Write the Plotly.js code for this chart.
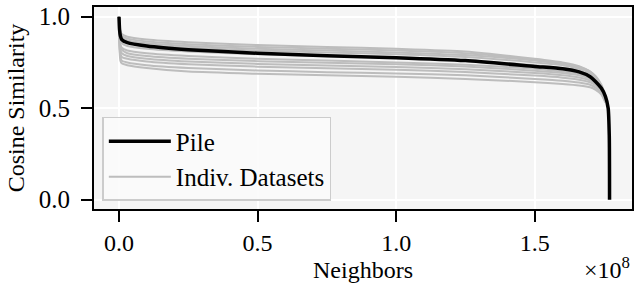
<!DOCTYPE html>
<html>
<head>
<meta charset="utf-8">
<script src="https://cdn.plot.ly/plotly-3.0.1.min.js"></script>
<style>html,body{margin:0;padding:0;background:#fff;}#chart{width:634px;height:283px;}</style>
</head>
<body>
<div id="chart"></div>
<script>
// Neighbors in units of 1e8
const pileX = [0, 0.002, 0.005, 0.01, 0.03, 0.1, 0.25, 0.5, 0.75, 1.0, 1.25, 1.5, 1.6, 1.66, 1.70, 1.72, 1.74, 1.755, 1.765, 1.769, 1.77];
const pileY = [1.0, 0.93, 0.895, 0.875, 0.858, 0.84, 0.82, 0.80, 0.787, 0.776, 0.76, 0.728, 0.715, 0.698, 0.672, 0.645, 0.61, 0.565, 0.50, 0.35, 0.0];

const indivX = [0, 0.002, 0.005, 0.01, 0.03, 0.1, 0.25, 0.5, 0.75, 1.0, 1.25, 1.5, 1.6, 1.66, 1.70, 1.72, 1.74, 1.755];
const indiv1  = [1.0, 0.95, 0.92, 0.905, 0.89, 0.875, 0.86, 0.845, 0.835, 0.825, 0.81, 0.77, 0.75, 0.73, 0.70, 0.675, 0.63, 0.57];
const indiv2  = [1.0, 0.94, 0.91, 0.895, 0.88, 0.865, 0.85, 0.835, 0.825, 0.815, 0.80, 0.765, 0.745, 0.725, 0.70, 0.67, 0.625, 0.565];
const indiv3  = [1.0, 0.93, 0.90, 0.885, 0.87, 0.855, 0.84, 0.825, 0.815, 0.805, 0.79, 0.76, 0.74, 0.72, 0.695, 0.665, 0.62, 0.56];
const indiv4  = [1.0, 0.92, 0.89, 0.875, 0.86, 0.845, 0.83, 0.815, 0.805, 0.795, 0.78, 0.75, 0.735, 0.715, 0.69, 0.66, 0.615, 0.555];
const indiv5  = [1.0, 0.90, 0.87, 0.855, 0.84, 0.825, 0.81, 0.795, 0.785, 0.775, 0.762, 0.735, 0.72, 0.705, 0.68, 0.655, 0.61, 0.55];
const indiv6  = [1.0, 0.88, 0.85, 0.83, 0.815, 0.80, 0.785, 0.77, 0.76, 0.75, 0.738, 0.715, 0.70, 0.688, 0.67, 0.645, 0.605, 0.55];
const indiv7  = [1.0, 0.87, 0.84, 0.82, 0.80, 0.785, 0.77, 0.757, 0.748, 0.74, 0.728, 0.705, 0.692, 0.68, 0.662, 0.64, 0.60, 0.545];
const indiv8  = [1.0, 0.86, 0.82, 0.80, 0.785, 0.77, 0.755, 0.742, 0.733, 0.725, 0.713, 0.692, 0.68, 0.668, 0.652, 0.632, 0.595, 0.54];
const indiv9  = [1.0, 0.85, 0.80, 0.78, 0.77, 0.755, 0.74, 0.727, 0.718, 0.71, 0.698, 0.678, 0.667, 0.656, 0.642, 0.624, 0.59, 0.54];
const indiv10 = [1.0, 0.84, 0.78, 0.76, 0.75, 0.735, 0.72, 0.706, 0.697, 0.69, 0.68, 0.66, 0.65, 0.64, 0.628, 0.612, 0.582, 0.535];
const indiv11 = [1.0, 0.82, 0.76, 0.745, 0.735, 0.72, 0.70, 0.688, 0.68, 0.672, 0.66, 0.642, 0.632, 0.624, 0.614, 0.60, 0.575, 0.53];
const indivSeries = [indiv1, indiv2, indiv3, indiv4, indiv5, indiv6, indiv7, indiv8, indiv9, indiv10, indiv11];

const xTicks = [0, 0.5, 1.0, 1.5];
const xTickText = ["0.0", "0.5", "1.0", "1.5"];
const yTicks = [0, 0.5, 1.0];
const yTickText = ["0.0", "0.5", "1.0"];

const FONT = "Liberation Serif";
const FS = 24;

const traces = indivSeries.map((ys, i) => ({
  x: indivX, y: ys, type: "scatter", mode: "lines",
  line: {color: "#bdbdbd", width: 2, shape: "spline", smoothing: 0.6},
  name: "Indiv. Datasets", legendgroup: "indiv", showlegend: i === 0, legendrank: 2
}));
traces.push({
  x: pileX, y: pileY, type: "scatter", mode: "lines",
  line: {color: "#000000", width: 3.5, shape: "spline", smoothing: 0.6},
  name: "Pile", legendrank: 1
});

const layout = {
  width: 634, height: 283,
  margin: {l: 94, r: 2, t: 7, b: 74, pad: 0},
  paper_bgcolor: "#ffffff",
  plot_bgcolor: "#f5f5f5",
  font: {family: FONT, size: FS, color: "#000"},
  showlegend: true,
  xaxis: {
    range: [-0.0902, 1.851],
    tickvals: xTicks, ticktext: xTickText,
    showline: true, mirror: true, linecolor: "#000", linewidth: 2,
    ticks: "outside", ticklen: 11, tickwidth: 2, tickcolor: "#000",
    showgrid: true, gridcolor: "#ffffff", gridwidth: 2,
    zeroline: false,
    tickfont: {family: FONT, size: FS, color: "#000"},
    title: {text: "Neighbors", font: {family: FONT, size: FS, color: "#000"}, standoff: 9}
  },
  yaxis: {
    range: [-0.051, 1.053],
    tickvals: yTicks, ticktext: yTickText,
    showline: true, mirror: true, linecolor: "#000", linewidth: 2,
    ticks: "outside", ticklen: 11, tickwidth: 2, tickcolor: "#000",
    ticklabelstandoff: 6,
    showgrid: true, gridcolor: "#ffffff", gridwidth: 2,
    zeroline: false,
    tickfont: {family: FONT, size: 25, color: "#000"},
    title: {text: "Cosine Similarity", font: {family: FONT, size: FS, color: "#000"}, standoff: 7}
  },
  legend: {
    x: 0.0155, y: 0.04, xanchor: "left", yanchor: "bottom",
    bgcolor: "rgba(250,250,250,0.85)", bordercolor: "#cccccc", borderwidth: 1.5,
    font: {family: FONT, size: 25, color: "#000"}, itemwidth: 62,
    traceorder: "normal"
  },
  annotations: [{
    xref: "paper", yref: "paper", x: 1.0, y: -0.375,
    xanchor: "right", yanchor: "bottom", showarrow: false,
    text: "×10<sup>8</sup>", font: {family: FONT, size: FS, color: "#000"}
  }]
};

Plotly.newPlot("chart", traces, layout, {displayModeBar: false, staticPlot: true});
</script>
</body>
</html>
